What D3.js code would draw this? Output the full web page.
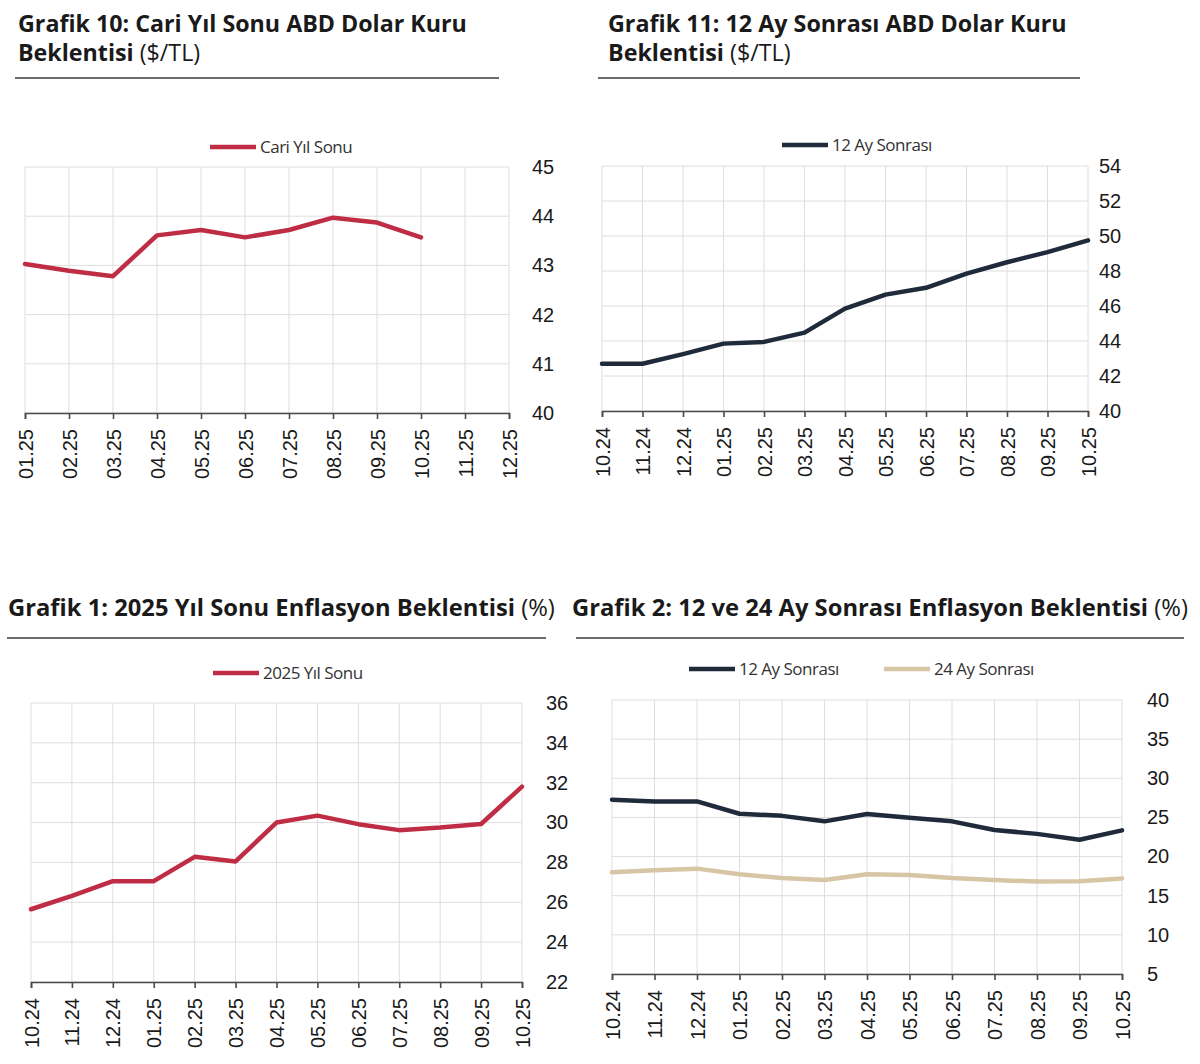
<!DOCTYPE html>
<html lang="tr">
<head>
<meta charset="utf-8"/>
<title>Beklenti Anketi Grafikleri</title>
<script src="https://d3js.org/d3.v7.min.js"></script>
<style>
  body { margin: 0; padding: 0; background: #fff; width: 1200px; height: 1064px; font-family: 'Open Sans', sans-serif; }
  svg text { fill: #1a1a1a; }
  .grid line { stroke: #dedede; stroke-width: 1; }
</style>
</head>
<body>
<svg id="chart" width="1200" height="1064"></svg>
<script>
// --- data ---
const monthsCari = ["01.25", "02.25", "03.25", "04.25", "05.25", "06.25", "07.25", "08.25", "09.25", "10.25", "11.25", "12.25"];
const cariYilSonu = [43.03, 42.89, 42.78, 43.61, 43.72, 43.57, 43.72, 43.97, 43.87, 43.57];

const months = ["10.24", "11.24", "12.24", "01.25", "02.25", "03.25", "04.25", "05.25", "06.25", "07.25", "08.25", "09.25", "10.25"];
const kur12Ay = [42.7, 42.7, 43.25, 43.85, 43.95, 44.48, 45.85, 46.65, 47.04, 47.85, 48.5, 49.08, 49.75];
const yilSonu2025 = [25.65, 26.32, 27.06, 27.06, 28.28, 28.05, 30.0, 30.35, 29.92, 29.62, 29.75, 29.93, 31.8];
const enf12Ay = [27.26, 27.05, 27.05, 25.47, 25.2, 24.5, 25.43, 24.96, 24.5, 23.4, 22.9, 22.15, 23.35];
const enf24Ay = [17.99, 18.25, 18.46, 17.74, 17.26, 17.0, 17.74, 17.65, 17.26, 17.0, 16.8, 16.85, 17.2];

const ticksCari = [40, 41, 42, 43, 44, 45];
const ticksKur = [40, 42, 44, 46, 48, 50, 52, 54];
const ticks2025 = [22, 24, 26, 28, 30, 32, 34, 36];
const ticksEnf = [5, 10, 15, 20, 25, 30, 35, 40];

const RED = "#bf2d45", NAVY = "#1f2a3b", BEIGE = "#d6c6a6";

const svg = d3.select("#chart");

// title: bold part + light unit, fitted to a target width
function title(x, y, lines, width) {
  const g = svg.append("g");
  const texts = lines.map((ln, i) => {
    const t = g.append("text").attr("x", x).attr("y", y + i * 29)
      .style("font-size", "20px").style("font-weight", 700);
    t.append("tspan").text(ln[0]);
    if (ln[1]) t.append("tspan").style("font-weight", 400).text(" " + ln[1]);
    return t;
  });
  const w = texts[0].node().getComputedTextLength();
  const fs = 20 * width / w;
  texts.forEach(t => t.style("font-size", fs + "px"));
}

function rule(x1, x2, y) {
  svg.append("line").attr("x1", x1).attr("x2", x2).attr("y1", y).attr("y2", y)
    .attr("stroke", "#6b6b6b").attr("stroke-width", 2);
}

function legend(items, y) {
  items.forEach(it => {
    svg.append("line").attr("x1", it.x).attr("x2", it.x + 46).attr("y1", y).attr("y2", y)
      .attr("stroke", it.color).attr("stroke-width", 4.5);
    svg.append("text").attr("x", it.x + 50).attr("y", y + 6)
      .style("font-size", "17px").style("letter-spacing", "-0.5px").style("fill", "#333").text(it.label);
  });
}

function panel(o) {
  const x = d3.scalePoint().domain(o.cats).range([o.x0, o.x1]);
  const y = d3.scaleLinear().domain(d3.extent(o.ticks)).range([o.y1, o.y0]);
  const g = svg.append("g");

  // gridlines
  g.append("g").attr("class", "grid").selectAll("line").data(o.cats).join("line")
    .attr("x1", d => x(d)).attr("x2", d => x(d)).attr("y1", o.y0).attr("y2", o.y1);
  g.append("g").attr("class", "grid").selectAll("line").data(o.ticks).join("line")
    .attr("x1", o.x0).attr("x2", o.x1).attr("y1", d => y(d)).attr("y2", d => y(d));

  // y axis labels on right
  const ya = g.append("g").attr("transform", `translate(${o.x1 + o.yOff},0)`)
    .call(d3.axisRight(y).tickValues(o.ticks).tickFormat(d3.format("d")).tickSize(0).tickPadding(0));
  ya.select(".domain").remove();
  ya.selectAll("text").style("font-size", "20px").style("fill", "#1a1a1a");

  // x axis at bottom
  const xa = g.append("g").attr("transform", `translate(0,${o.y1})`)
    .call(d3.axisBottom(x).tickSize(6).tickPadding(0));
  xa.select(".domain").attr("stroke", "#4a4a4a").attr("stroke-width", 1.6);
  xa.selectAll(".tick line").attr("stroke", "#4a4a4a").attr("stroke-width", 1.6);
  xa.selectAll("text")
    .attr("transform", "rotate(-90)")
    .attr("x", -16).attr("y", 0).attr("dy", "0.35em")
    .style("text-anchor", "end").style("font-size", "20px").style("fill", "#1a1a1a");

  const line = d3.line().x((d, i) => x(o.cats[i])).y(d => y(d));
  o.series.forEach(s => {
    g.append("path").datum(s.values).attr("d", line)
      .attr("fill", "none").attr("stroke", s.color).attr("stroke-width", 4.5)
      .attr("stroke-linejoin", "round").attr("stroke-linecap", "round");
  });
}

// Grafik 10
title(18, 32, [["Grafik 10: Cari Yıl Sonu ABD Dolar Kuru"], ["Beklentisi", "($/TL)"]], 449);
rule(15, 499, 78);
legend([{ x: 210, color: RED, label: "Cari Yıl Sonu" }], 147);
panel({ cats: monthsCari, ticks: ticksCari, x0: 25, x1: 509, y0: 167, y1: 413, yOff: 23,
  series: [{ values: cariYilSonu, color: RED }] });

// Grafik 11
title(608, 32, [["Grafik 11: 12 Ay Sonrası ABD Dolar Kuru"], ["Beklentisi", "($/TL)"]], 459);
rule(598, 1080, 78);
legend([{ x: 782, color: NAVY, label: "12 Ay Sonrası" }], 145);
panel({ cats: months, ticks: ticksKur, x0: 602, x1: 1088, y0: 166, y1: 411, yOff: 11,
  series: [{ values: kur12Ay, color: NAVY }] });

// Grafik 1
title(8, 616, [["Grafik 1: 2025 Yıl Sonu Enflasyon Beklentisi", "(%)"]], 547);
rule(7, 546, 638);
legend([{ x: 213, color: RED, label: "2025 Yıl Sonu" }], 673);
panel({ cats: months, ticks: ticks2025, x0: 31, x1: 522, y0: 703, y1: 982, yOff: 24,
  series: [{ values: yilSonu2025, color: RED }] });

// Grafik 2
title(572, 616, [["Grafik 2: 12 ve 24 Ay Sonrası Enflasyon Beklentisi", "(%)"]], 616);
rule(576, 1184, 638);
legend([{ x: 689, color: NAVY, label: "12 Ay Sonrası" }, { x: 884, color: BEIGE, label: "24 Ay Sonrası" }], 669);
panel({ cats: months, ticks: ticksEnf, x0: 612, x1: 1122, y0: 700, y1: 974, yOff: 25,
  series: [{ values: enf12Ay, color: NAVY }, { values: enf24Ay, color: BEIGE }] });
</script>
</body>
</html>
